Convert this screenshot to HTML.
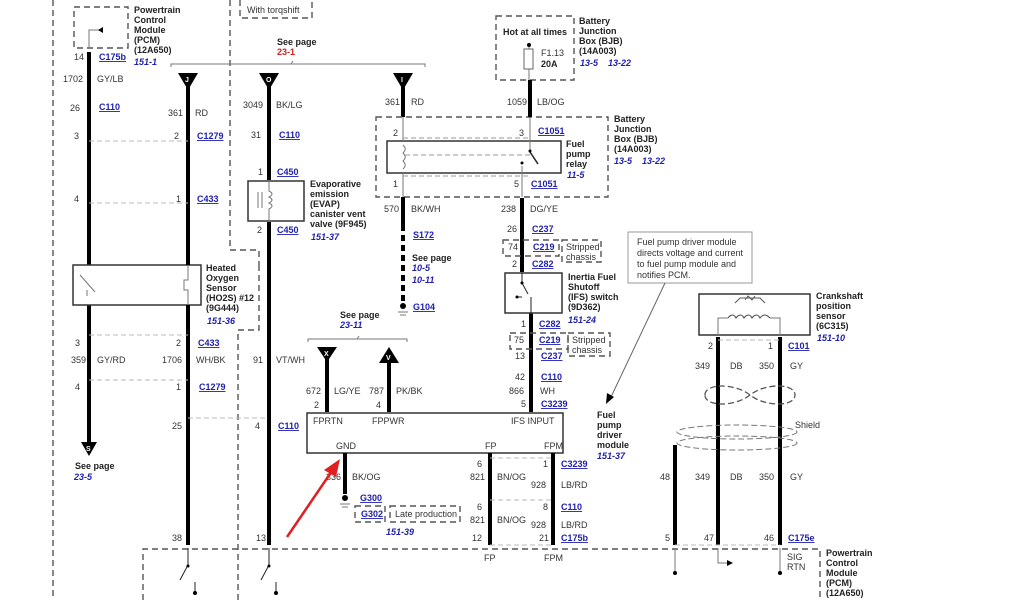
<!DOCTYPE html>
<html><head><meta charset="utf-8"><style>
html,body{margin:0;padding:0;background:#fff}
svg{display:block}
text{font-family:"Liberation Sans",sans-serif;font-size:9px;fill:#333}
.b{font-weight:bold;fill:#222}
.c{font-weight:bold;fill:#2020b0;text-decoration:underline}
.i{font-weight:bold;font-style:italic;fill:#2020b0}
.r{font-weight:bold;fill:#d02020}
.w{stroke:#000;stroke-width:4;fill:none}
.t{stroke:#777;stroke-width:1;fill:none}
.d{stroke:#555;stroke-width:1.4;fill:none;stroke-dasharray:6 4}
.dl{stroke:#bbb;stroke-width:1;fill:none;stroke-dasharray:5 3}
.bx{stroke:#333;stroke-width:1.5;fill:#fff}
</style></head><body>
<svg width="1024" height="600" viewBox="0 0 1024 600" xmlns="http://www.w3.org/2000/svg">
<path class="d" d="M53 0V600"/>
<path class="d" d="M230 0V250H259V265"/>
<path class="d" d="M259 265V330H238V600"/>
<path class="d" d="M240 0V18H312V0"/>
<text x="247" y="13">With torqshift</text>
<path class="d" d="M143 600V549H820V600"/>

<path class="d" d="M74 7H128V48H74Z"/>
<path class="t" d="M89 48V30H103"/><path d="M103 27L98 30L103 33Z" fill="#000"/>
<text class="b" x="134" y="13">Powertrain</text><text class="b" x="134" y="23">Control</text><text class="b" x="134" y="33">Module</text><text class="b" x="134" y="43">(PCM)</text><text class="b" x="134" y="53">(12A650)</text>
<text class="i" x="134" y="65">151-1</text>
<text x="74" y="60">14</text><text class="c" x="99" y="60">C175b</text>
<text x="63" y="82">1702</text><text x="97" y="82">GY/LB</text>
<text x="70" y="111">26</text><text class="c" x="99" y="110">C110</text>
<text x="74" y="139">3</text>
<text x="74" y="202">4</text>

<path class="w" d="M89 52V265M89 305V442"/>
<path d="M81 442H97L89 456Z" fill="#000"/><text x="86" y="451" style="fill:#fff;font-size:7px;font-weight:bold">S</text>
<text class="b" x="75" y="469">See page</text><text class="i" x="74" y="480">23-5</text>
<text x="75" y="346">3</text><text x="71" y="363">359</text><text x="97" y="363">GY/RD</text><text x="75" y="390">4</text>

<rect class="bx" x="73" y="265" width="128" height="40"/>
<path class="t" d="M80 275L95 292M87 290V296"/>
<path class="t" d="M188 265V280h-4v10h4V305"/>
<text class="b" x="206" y="271">Heated</text><text class="b" x="206" y="281">Oxygen</text><text class="b" x="206" y="291">Sensor</text><text class="b" x="206" y="301">(HO2S) #12</text><text class="b" x="206" y="311">(9G444)</text>
<text class="i" x="207" y="324">151-36</text>

<path class="t" d="M171 67V64H425V67M291 64L293 61"/>
<text class="b" x="277" y="45">See page</text><text class="r" x="277" y="55">23-1</text>

<path d="M178 73H198L188 90Z" fill="#000"/><text x="185" y="82" style="fill:#fff;font-size:7px;font-weight:bold">J</text>
<path class="w" d="M188 85V265M188 305V545"/>
<text x="168" y="116">361</text><text x="195" y="116">RD</text>
<text x="174" y="139">2</text><text class="c" x="197" y="139">C1279</text>
<text x="176" y="202">1</text><text class="c" x="197" y="202">C433</text>
<path class="dl" d="M89 141H188M89 203H188M89 335H188M89 380H188M188 418H269"/>
<text x="176" y="346">2</text><text class="c" x="198" y="346">C433</text>
<text x="162" y="363">1706</text><text x="196" y="363">WH/BK</text>
<text x="176" y="390">1</text><text class="c" x="199" y="390">C1279</text>
<text x="172" y="429">25</text><text x="172" y="541">38</text>

<path d="M259 73H279L269 90Z" fill="#000"/><text x="266" y="82" style="fill:#fff;font-size:7px;font-weight:bold">O</text>
<path class="w" d="M269 85V180M269 222V545"/>
<text x="243" y="108">3049</text><text x="276" y="108">BK/LG</text>
<text x="251" y="138">31</text><text class="c" x="279" y="138">C110</text>
<text x="258" y="175">1</text><text class="c" x="277" y="175">C450</text>
<rect class="bx" x="248" y="181" width="56" height="40"/>
<path class="t" d="M269 181v10c4 2 4 4 0 6c4 2 4 4 0 6c4 2 4 4 0 6V221M258 192V208M262 192V208"/>
<text x="257" y="233">2</text><text class="c" x="277" y="233">C450</text>
<text class="b" x="310" y="187">Evaporative</text><text class="b" x="310" y="197">emission</text><text class="b" x="310" y="207">(EVAP)</text><text class="b" x="310" y="217">canister vent</text><text class="b" x="310" y="227">valve (9F945)</text>
<text class="i" x="311" y="240">151-37</text>
<text x="253" y="363">91</text><text x="276" y="363">VT/WH</text>
<text x="255" y="429">4</text><text class="c" x="278" y="429">C110</text>
<text x="256" y="541">13</text>

<path d="M393 73H413L403 90Z" fill="#000"/><text x="401" y="82" style="fill:#fff;font-size:7px;font-weight:bold">I</text>
<path class="w" d="M403 85V117"/>
<text x="385" y="105">361</text><text x="411" y="105">RD</text>
<path class="d" d="M376 117H608V197H376Z"/>
<rect class="bx" x="387" y="141" width="174" height="32"/>
<path class="t" d="M403 117V141M403 173V197M530 117V152M522 166V197"/>
<path class="t" d="M403 145c3 3 3 5 0 8c3 3 3 5 0 8c3 3 3 5 0 8"/>
<path class="dl" d="M405 155H530M403 138H530M403 176H530" style="stroke:#999"/>
<path class="t" d="M530 152L538 164" style="stroke:#222;stroke-width:1.5"/><circle cx="522" cy="163" r="1.5"/><circle cx="530" cy="151" r="1.5"/>
<text x="393" y="136">2</text><text x="519" y="136">3</text><text class="c" x="538" y="134">C1051</text>
<text x="393" y="187">1</text><text x="514" y="187">5</text><text class="c" x="531" y="187">C1051</text>
<text class="b" x="566" y="147">Fuel</text><text class="b" x="566" y="157">pump</text><text class="b" x="566" y="167">relay</text><text class="i" x="567" y="178">11-5</text>
<text class="b" x="614" y="122">Battery</text><text class="b" x="614" y="132">Junction</text><text class="b" x="614" y="142">Box (BJB)</text><text class="b" x="614" y="152">(14A003)</text>
<text class="i" x="614" y="164">13-5</text><text class="i" x="642" y="164">13-22</text>
<path class="w" d="M403 197V225"/><path d="M403 225V305" stroke="#000" stroke-width="4" stroke-dasharray="6 4"/>
<text x="384" y="212">570</text><text x="411" y="212">BK/WH</text>
<text class="c" x="413" y="238">S172</text>
<text class="b" x="412" y="261">See page</text><text class="i" x="412" y="271">10-5</text><text class="i" x="412" y="283">10-11</text>
<circle cx="403" cy="306" r="3" fill="#000"/><path class="t" d="M398 312H408M400 315H406"/>
<text class="c" x="413" y="310">G104</text>

<path class="d" d="M496 16H574V80H496Z"/>
<text class="b" x="503" y="35">Hot at all times</text>
<rect x="524" y="49" width="9" height="20" fill="#fff" stroke="#666"/>
<path class="t" d="M529 45V49M529 69V80"/><circle cx="529" cy="45" r="2" fill="#000"/>
<text x="541" y="56">F1.13</text><text class="b" x="541" y="67">20A</text>
<text class="b" x="579" y="24">Battery</text><text class="b" x="579" y="34">Junction</text><text class="b" x="579" y="44">Box (BJB)</text><text class="b" x="579" y="54">(14A003)</text>
<text class="i" x="580" y="66">13-5</text><text class="i" x="608" y="66">13-22</text>
<path class="w" d="M530 80V117"/>
<text x="507" y="105">1059</text><text x="537" y="105">LB/OG</text>

<path class="w" d="M522 198V272M531 313V412"/>
<path class="t" d="M522 272V273"/>
<text x="501" y="212">238</text><text x="530" y="212">DG/YE</text>
<text x="507" y="232">26</text><text class="c" x="532" y="232">C237</text>
<path class="d" d="M503 240H559V256H503Z"/><text x="508" y="250">74</text><text class="c" x="533" y="250">C219</text>
<path class="d" d="M562 240H601V262H562Z"/><text x="566" y="250">Stripped</text><text x="566" y="260">chassis</text>
<text x="512" y="267">2</text><text class="c" x="532" y="267">C282</text>
<rect class="bx" x="505" y="273" width="57" height="40"/>
<path class="t" d="M522 273V283M522 283L528 294M517 297L522 297M531 297V313" style="stroke:#222"/><circle cx="522" cy="283" r="1.5"/><circle cx="517" cy="297" r="1.5"/>
<text class="b" x="568" y="280">Inertia Fuel</text><text class="b" x="568" y="290">Shutoff</text><text class="b" x="568" y="300">(IFS) switch</text><text class="b" x="568" y="310">(9D362)</text><text class="i" x="568" y="323">151-24</text>
<text x="521" y="327">1</text><text class="c" x="539" y="327">C282</text>
<path class="d" d="M510 333H568V349H510Z"/><text x="514" y="343">75</text><text class="c" x="539" y="343">C219</text>
<path class="d" d="M568 333H610V356H568Z"/><text x="572" y="343">Stripped</text><text x="572" y="353">chassis</text>
<text x="515" y="359">13</text><text class="c" x="541" y="359">C237</text>
<text x="515" y="380">42</text><text class="c" x="541" y="380">C110</text>
<text x="509" y="394">866</text><text x="540" y="394">WH</text>
<text x="521" y="407">5</text><text class="c" x="541" y="407">C3239</text>

<path class="t" d="M308 342V339H407V342M357 339L359 336"/>
<text class="b" x="340" y="318">See page</text><text class="i" x="340" y="328">23-11</text>
<path d="M317 347H337L327 362Z" fill="#000"/><text x="324" y="356" style="fill:#fff;font-size:7px;font-weight:bold">X</text>
<path d="M379 363H399L389 347Z" fill="#000"/><text x="386" y="360" style="fill:#fff;font-size:7px;font-weight:bold">V</text>
<path class="w" d="M327 358V412M389 360V412"/>
<text x="306" y="394">672</text><text x="334" y="394">LG/YE</text><text x="369" y="394">787</text><text x="396" y="394">PK/BK</text>
<text x="314" y="408">2</text><text x="376" y="408">4</text>

<rect class="bx" x="307" y="413" width="256" height="40"/>
<text x="313" y="424">FPRTN</text><text x="372" y="424">FPPWR</text><text x="511" y="424">IFS INPUT</text>
<text x="336" y="449">GND</text><text x="485" y="449">FP</text><text x="544" y="449">FPM</text>
<text class="b" x="597" y="418">Fuel</text><text class="b" x="597" y="428">pump</text><text class="b" x="597" y="438">driver</text><text class="b" x="597" y="448">module</text><text class="i" x="597" y="459">151-37</text>
<path class="w" d="M345 453V494"/>
<text x="326" y="480">336</text><text x="352" y="480">BK/OG</text>
<circle cx="345" cy="498" r="3" fill="#000"/><path class="t" d="M340 504H350M342 507H348"/>
<text class="c" x="360" y="501">G300</text>
<path class="d" d="M355 506H385V522H355Z"/><text class="c" x="361" y="517">G302</text>
<path class="d" d="M390 506H460V522H390Z"/><text x="395" y="517">Late production</text>
<text class="i" x="386" y="535">151-39</text>

<path class="w" d="M490 453V545M553 453V545"/>
<path class="dl" d="M490 458H553M490 500H553M490 545H553"/>
<text x="477" y="467">6</text><text x="470" y="480">821</text><text x="497" y="480">BN/OG</text>
<text x="543" y="467">1</text><text class="c" x="561" y="467">C3239</text>
<text x="531" y="488">928</text><text x="561" y="488">LB/RD</text>
<text x="477" y="510">6</text><text x="470" y="523">821</text><text x="497" y="523">BN/OG</text>
<text x="543" y="510">8</text><text class="c" x="561" y="510">C110</text>
<text x="531" y="528">928</text><text x="561" y="528">LB/RD</text>
<text x="472" y="541">12</text><text x="539" y="541">21</text><text class="c" x="561" y="541">C175b</text>
<text x="484" y="561">FP</text><text x="544" y="561">FPM</text>

<rect x="628" y="232" width="124" height="51" fill="#fff" stroke="#999"/>
<text x="637" y="245">Fuel pump driver module</text><text x="637" y="256">directs voltage and current</text><text x="637" y="267">to fuel pump module and</text><text x="637" y="278">notifies PCM.</text>
<path d="M665 283L611 397" stroke="#666" stroke-width="1"/><path d="M606 404L607 393L614 397Z" fill="#000"/>

<rect class="bx" x="699" y="294" width="111" height="41"/>
<path class="t" d="M718 335V318H728M780 335V318H770"/>
<path class="t" d="M728 318c3-4 6-4 8 0c3-4 6-4 8 0c3-4 6-4 8 0c3-4 6-4 8 0c3-4 6-4 10 0" style="stroke:#444"/>
<path class="t" d="M735 303l5-5h20l5 5M745 300l3-4l4 4l3-4" style="stroke:#555"/>
<text class="b" x="816" y="299">Crankshaft</text><text class="b" x="816" y="309">position</text><text class="b" x="816" y="319">sensor</text><text class="b" x="816" y="329">(6C315)</text><text class="i" x="817" y="341">151-10</text>
<path class="w" d="M718 337V545M780 337V545M675 445V545"/>
<path class="dl" d="M718 340H780M675 545H780"/>
<text x="708" y="349">2</text><text x="768" y="349">1</text><text class="c" x="788" y="349">C101</text>
<text x="695" y="369">349</text><text x="730" y="369">DB</text><text x="759" y="369">350</text><text x="790" y="369">GY</text>
<path d="M705 395c0-12 30-12 45 0s45 12 45 0s-30-12-45 0s-45 12-45 0Z" stroke="#555" fill="none" stroke-width="1.3" stroke-dasharray="6 3"/>
<ellipse cx="737" cy="432" rx="60" ry="7" stroke="#777" fill="none" stroke-dasharray="6 3"/>
<ellipse cx="737" cy="443" rx="60" ry="7" stroke="#777" fill="none" stroke-dasharray="6 3"/>
<text x="795" y="428">Shield</text>
<text x="660" y="480">48</text><text x="695" y="480">349</text><text x="730" y="480">DB</text><text x="759" y="480">350</text><text x="790" y="480">GY</text>
<text x="665" y="541">5</text><text x="704" y="541">47</text><text x="764" y="541">46</text><text class="c" x="788" y="541">C175e</text>
<text x="787" y="560">SIG</text><text x="787" y="570">RTN</text>
<path class="t" d="M675 548V572M780 548V572M718 548V563H728"/><path d="M733 563L727 560V566Z" fill="#000"/>
<circle cx="675" cy="573" r="2" fill="#000"/><circle cx="780" cy="573" r="2" fill="#000"/>
<text class="b" x="826" y="556">Powertrain</text><text class="b" x="826" y="566">Control</text><text class="b" x="826" y="576">Module</text><text class="b" x="826" y="586">(PCM)</text><text class="b" x="826" y="596">(12A650)</text>

<path class="t" d="M188 548V565L180 580M195 582V592M269 548V565L261 580M276 582V592" style="stroke:#222"/>
<circle cx="188" cy="566" r="1.5"/><circle cx="195" cy="593" r="2"/><circle cx="269" cy="566" r="1.5"/><circle cx="276" cy="593" r="2"/>

<path d="M287 537L334 468" stroke="#e02020" stroke-width="2.5"/>
<path d="M340 459L324 470L336 477Z" fill="#e02020"/>
</svg>
</body></html>
